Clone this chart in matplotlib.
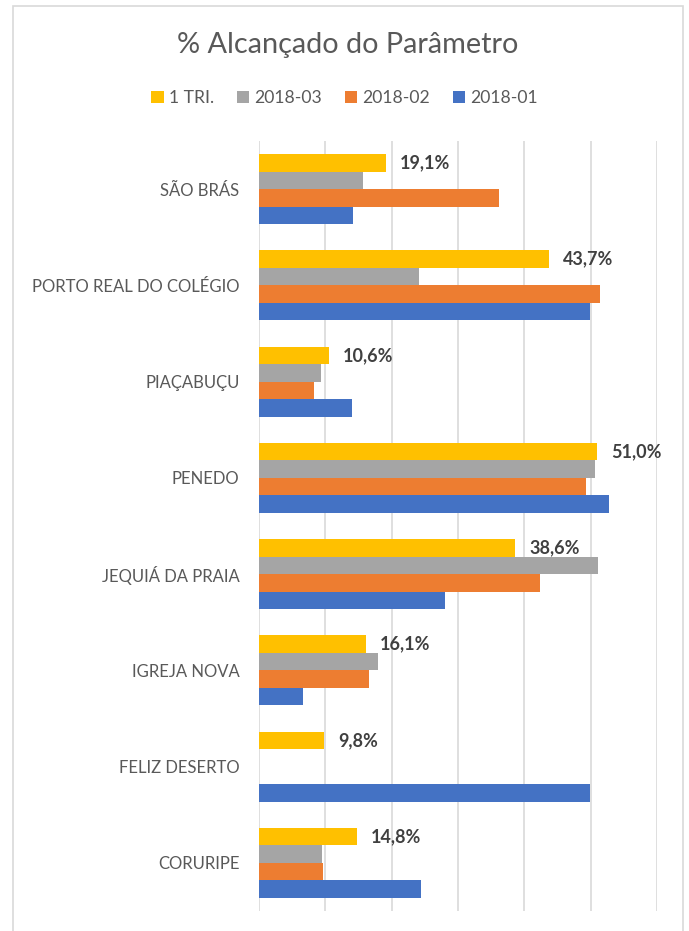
import matplotlib.pyplot as plt
import numpy as np
from matplotlib.patches import Rectangle

plt.rcParams['font.family'] = ['Lato', 'DejaVu Sans']

# data
municipios = ["SÃO BRÁS", "PORTO REAL DO COLÉGIO", "PIAÇABUÇU", "PENEDO",
              "JEQUIÁ DA PRAIA", "IGREJA NOVA", "FELIZ DESERTO", "CORURIPE"]
tri1 = [19.1, 43.7, 10.6, 51.0, 38.6, 16.1, 9.8, 14.8]
s2018_03 = [15.7, 24.1, 9.4, 50.7, 51.1, 17.9, 0.0, 9.5]
s2018_02 = [36.2, 51.4, 8.3, 49.3, 42.4, 16.6, 0.0, 9.7]
s2018_01 = [14.2, 49.9, 14.0, 52.8, 28.1, 6.6, 49.9, 24.4]

series = [("1 TRI.", tri1, "#FFC000"),
          ("2018-03", s2018_03, "#A5A5A5"),
          ("2018-02", s2018_02, "#ED7D31"),
          ("2018-01", s2018_01, "#4472C4")]

W, H = 689, 931
fig = plt.figure(figsize=(W / 100, H / 100), dpi=100)
ax = fig.add_axes([259 / W, 1 - 911 / H, (657 - 259) / W, (911 - 141) / H])

# chart frame
fig.patches.append(Rectangle((13 / W, -0.01), (683 - 13) / W, 1 - 6 / H + 0.01,
                             transform=fig.transFigure, fill=False,
                             edgecolor="#D9D9D9", lw=1.2))

y = np.arange(len(municipios))
bh = 0.182
for i, (name, vals, col) in enumerate(series):
    pos = y - 1.5 * bh + i * bh
    ax.barh(pos, vals, height=bh, color=col, label=name, zorder=3)
    if i == 0:
        for p, v in zip(pos, vals):
            ax.text(v + 2.1, p, f"{v:.1f}%".replace(".", ","), va="center",
                    ha="left", fontsize=13, fontweight="bold", color="#404040")

ax.set_xlim(0, 60)
ax.set_ylim(len(municipios) - 0.5, -0.5)
ax.set_yticks(y)
ax.set_yticklabels(municipios, fontsize=12, color="#595959")
ax.tick_params(axis="y", length=0, pad=14)
ax.set_xticks(np.arange(0, 61, 10))
ax.tick_params(axis="x", length=0, labelbottom=False)
ax.grid(axis="x", color="#D9D9D9", lw=1.2, zorder=0)
for s in ax.spines.values():
    s.set_visible(False)

fig.text((13 + 683) / 2 / W, 1 - 45 / H, "% Alcançado do Parâmetro",
         ha="center", va="center", fontsize=20.8, color="#595959")
fig.legend(loc="center", bbox_to_anchor=(0.5, 1 - 98 / H), ncol=4, frameon=False,
           fontsize=12.6, labelcolor="#595959", handlelength=0.7, handleheight=0.7,
           handletextpad=0.3, columnspacing=1.3)

fig.savefig("out.png", dpi=100, facecolor="white")
